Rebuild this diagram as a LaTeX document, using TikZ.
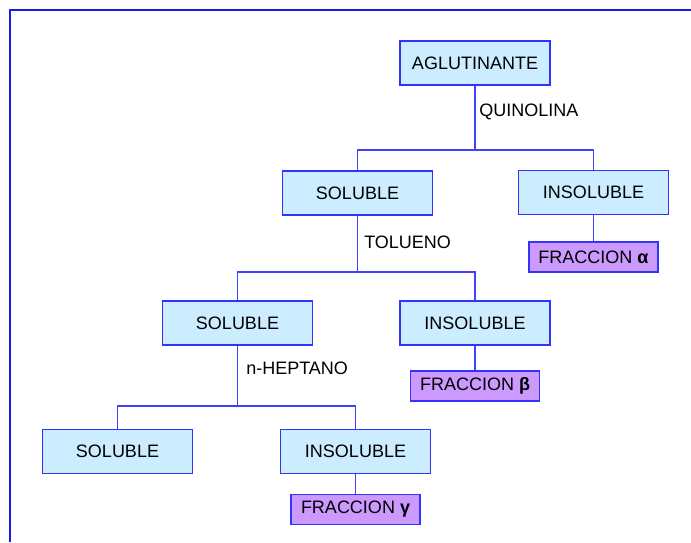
\documentclass[tikz,border=0pt]{standalone}
\usepackage{fontspec}
\setmainfont{Liberation Sans}
\definecolor{boxfill}{HTML}{CCECFF}
\definecolor{boxline}{HTML}{3333FF}
\definecolor{fracfill}{HTML}{CC99FF}
\definecolor{frameblue}{HTML}{1A1AE6}
\definecolor{conn}{HTML}{4040FF}
\tikzset{
  bluebox/.style={draw=boxline, fill=boxfill, line width=0.9pt, minimum width=112.5pt, minimum height=33pt, inner sep=0pt, font=\fontsize{13.5}{16}\selectfont},
  fracbox/.style={draw=boxline, fill=fracfill, line width=0.9pt, minimum width=96.75pt, minimum height=22.5pt, inner sep=0pt, font=\fontsize{13.5}{16}\selectfont},
  lbl/.style={anchor=west, inner sep=0pt, font=\fontsize{13.5}{16}\selectfont},
  link/.style={draw=conn, line width=0.9pt},
}
\begin{document}
\begin{tikzpicture}[x=0.75pt, y=-0.75pt]
\useasboundingbox (0,0) rectangle (691,542);
\draw[frameblue, line width=0.9pt] (691,10) -- (10,10) -- (10,542);
\node[bluebox] (ag) at (475,63) {AGLUTINANTE};
\node[bluebox] (s1) at (357.5,193) {SOLUBLE};
\node[bluebox] (i1) at (593.5,192.5) {INSOLUBLE};
\node[fracbox] (fa) at (593.5,257) {FRACCION \textbf{α}};
\node[bluebox] (s2) at (237.5,323) {SOLUBLE};
\node[bluebox] (i2) at (475,323) {INSOLUBLE};
\node[fracbox] (fb) at (475,386) {FRACCION \textbf{β}};
\node[bluebox] (s3) at (117.5,451.5) {SOLUBLE};
\node[bluebox] (i3) at (355.5,451.5) {INSOLUBLE};
\node[fracbox] (fg) at (355.5,509.5) {FRACCION \textbf{γ}};
\coordinate (j1) at (475,150);
\coordinate (j2) at (357.5,272);
\coordinate (j3) at (237.5,406);
\node[lbl] (q) at (479,112) {QUINOLINA};
\node[lbl] (t) at (364,242) {TOLUENO};
\node[lbl] (h) at (246,368) {n-HEPTANO};
\draw[link] (ag.south) -- (j1);
\draw[link] (s1.north) |- (j1) -| (i1.north);
\draw[link] (i1.south) -- (fa.north);
\draw[link] (s1.south) -- (j2);
\draw[link] (s2.north) |- (j2) -| (i2.north);
\draw[link] (i2.south) -- (fb.north);
\draw[link] (s2.south) -- (j3);
\draw[link] (s3.north) |- (j3) -| (i3.north);
\draw[link] (i3.south) -- (fg.north);
\end{tikzpicture}
\end{document}
